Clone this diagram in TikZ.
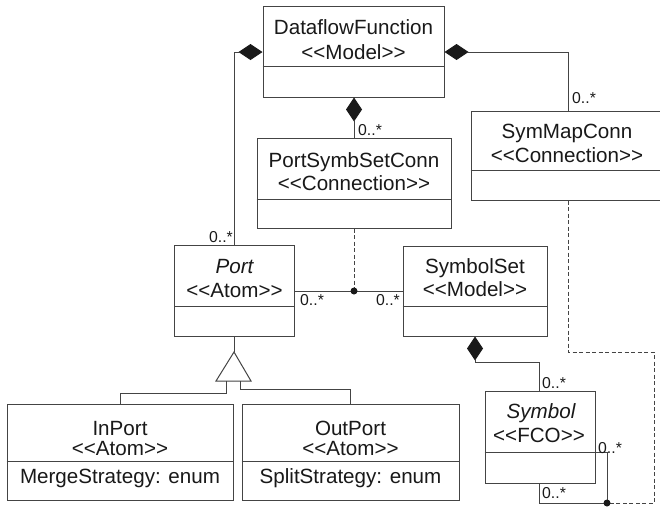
\documentclass[tikz,border=0pt]{standalone}
\usepackage{fontspec}
\setmainfont{Liberation Sans}
\usetikzlibrary{arrows.meta}
\definecolor{linecol}{RGB}{68,68,68}
\definecolor{txtcol}{RGB}{25,25,25}
\tikzset{
  cls/.style={draw=linecol, line width=1pt, fill=white, rectangle, inner sep=0pt},
  ctext/.style={anchor=base, inner sep=0pt, text=txtcol, font=\fontsize{20.6}{24}\selectfont},
  mult/.style={inner sep=0pt, text=txtcol, font=\fontsize{15.8}{18}\selectfont},
  wire/.style={draw=linecol, line width=1pt},
  dashwire/.style={wire, dash pattern=on 4pt off 2.5pt},
  comp/.style={wire, {Diamond[length=24pt,width=16pt,fill=txtcol,color=txtcol]}-},
}
\begin{document}
\begin{tikzpicture}[x=1pt,y=-1pt]
\useasboundingbox (0,0) rectangle (660,507);

% class boxes
\node[cls, minimum width=181pt, minimum height=91pt] (df)      at (353.5,51.5) {};
\node[cls, minimum width=194pt, minimum height=90pt] (psc)     at (354,183)    {};
\node[cls, minimum width=190pt, minimum height=89pt] (smc)     at (566,155.5)  {};
\node[cls, minimum width=120pt, minimum height=91pt] (port)    at (234.5,291)  {};
\node[cls, minimum width=144pt, minimum height=90pt] (sset)    at (475,291)    {};
\node[cls, minimum width=110pt, minimum height=92pt] (sym)     at (540,437)    {};
\node[cls, minimum width=226pt, minimum height=96pt] (inport)  at (120,452)    {};
\node[cls, minimum width=217pt, minimum height=96pt] (outport) at (350.5,452)  {};

% compartment dividers
\draw[wire] (df.west |- 0,66)       -- (df.east |- 0,66);
\draw[wire] (psc.west |- 0,199)     -- (psc.east |- 0,199);
\draw[wire] (smc.west |- 0,170)     -- (smc.east |- 0,170);
\draw[wire] (port.west |- 0,306)    -- (port.east |- 0,306);
\draw[wire] (sset.west |- 0,306)    -- (sset.east |- 0,306);
\draw[wire] (sym.west |- 0,452)     -- (sym.east |- 0,452);
\draw[wire] (inport.west |- 0,461)  -- (inport.east |- 0,461);
\draw[wire] (outport.west |- 0,461) -- (outport.east |- 0,461);

% class names and stereotypes
\node[ctext] (df-n)  at (353.5,34.4) {DataflowFunction};
\node[ctext] (df-s)  at (353.5,59.4) {<{}<Model>{}>};
\node[ctext] (psc-n) at (354,167)    {PortSymbSetConn};
\node[ctext] (psc-s) at (354,190)    {<{}<Connection>{}>};
\node[ctext] (smc-n) at (567,138)    {SymMapConn};
\node[ctext] (smc-s) at (567,162)    {<{}<Connection>{}>};
\node[ctext] (port-n) at (234.5,273) {\itshape Port};
\node[ctext] (port-s) at (234.5,297) {<{}<Atom>{}>};
\node[ctext] (sset-n) at (475,273)   {SymbolSet};
\node[ctext] (sset-s) at (475,296)   {<{}<Model>{}>};
\node[ctext] (sym-n)  at (541,418)   {\itshape Symbol};
\node[ctext] (sym-s)  at (539,442)   {<{}<FCO>{}>};
\node[ctext] (in-n)   at (120,435)   {InPort};
\node[ctext] (in-s)   at (120,455)   {<{}<Atom>{}>};
\node[ctext] (in-a)   at (120,483)   {MergeStrategy: enum};
\node[ctext] (out-n)  at (350.5,435) {OutPort};
\node[ctext] (out-s)  at (350.5,455) {<{}<Atom>{}>};
\node[ctext] (out-a)  at (350.5,483) {SplitStrategy: enum};

% composition associations
\draw[comp] (df.west |- 0,52) -| ([xshift=-0.5pt]port.north);
\draw[comp] (psc.north |- df.south) -- (psc.north);
\draw[comp] (df.east |- 0,52) -| ([xshift=2pt]smc.north);
\draw[comp] (sset.south) -- ++(0,26) -| ([xshift=-1pt]sym.north);

% Port -- SymbolSet association with its connection class
\draw[wire] (port.east) -- (sset.west);
\coordinate (pdot) at (psc.south |- port.east);
\draw[dashwire] (psc.south) -- (pdot);
\fill[txtcol] (pdot) circle (3.5pt);

% Symbol self association with SymMapConn
\coordinate (sdot) at (607,503);
\draw[wire] (sym.east |- 0,452) -| (sdot) -| ([xshift=-1pt]sym.south);
\draw[dashwire] ([xshift=2pt]smc.south) |- (654,352) |- (sdot);
\fill[txtcol] (sdot) circle (3.5pt);

% generalization
\coordinate (gen) at (234,352);
\coordinate (genL) at (226,381);
\coordinate (genR) at (240,381);
\draw[wire] (gen |- port.south) -- (gen);
\draw[wire, fill=white] (gen) -- (251,381) -- (216,381) -- cycle;
\draw[wire] (genL) -- (226,393) -| (inport.north);
\draw[wire] (genR) -- (240,389) -| (outport.north);

% multiplicities
\node[mult, anchor=base east] (m1) at (233,242) {0..*};
\node[mult, anchor=base west] (m2) at (358,135) {0..*};
\node[mult, anchor=base west] (m3) at (572,103) {0..*};
\node[mult, anchor=base west] (m4) at (300,305) {0..*};
\node[mult, anchor=base east] (m5) at (400,305) {0..*};
\node[mult, anchor=base west] (m6) at (542,388) {0..*};
\node[mult, anchor=base west] (m7) at (598,453) {0..*};
\node[mult, anchor=base west] (m8) at (542,498) {0..*};
\end{tikzpicture}
\end{document}
